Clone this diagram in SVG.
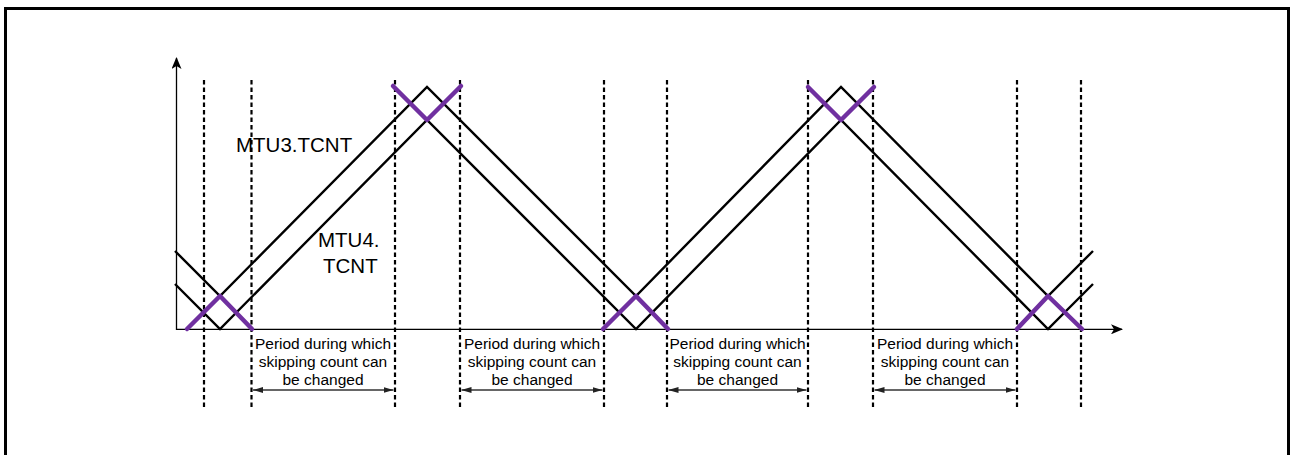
<svg xmlns="http://www.w3.org/2000/svg" width="1290" height="455" viewBox="0 0 1290 455">
<defs>
<style>
.frame{fill:none;stroke:#000;stroke-width:3}
.axis{fill:none;stroke:#000;stroke-width:1.3}
.dash{fill:none;stroke:#000;stroke-width:2.2;stroke-dasharray:4.5 3}
.wave{fill:none;stroke:#000;stroke-width:2.4;stroke-linejoin:miter}
.mark{fill:none;stroke:#7030A0;stroke-width:4.5;stroke-linecap:round;stroke-linejoin:round}
.span{fill:none;stroke:#333;stroke-width:1.5}
.lbl{font-family:"Liberation Sans",Arial,sans-serif;font-size:20.5px;fill:#000}
.per{font-family:"Liberation Sans",Arial,sans-serif;font-size:15.5px;fill:#000;text-anchor:middle}
</style>
<marker id="ah" viewBox="0 0 12 10" refX="11" refY="5" markerWidth="12" markerHeight="10" markerUnits="userSpaceOnUse" orient="auto-start-reverse">
<path d="M0,0 L12,5 L0,10 L3,5 Z" fill="#000"/>
</marker>
<marker id="sh" viewBox="0 0 10 6" refX="10" refY="3" markerWidth="10" markerHeight="6" markerUnits="userSpaceOnUse" orient="auto-start-reverse">
<path d="M0,0 L10,3 L0,6 Z" fill="#222"/>
</marker>
</defs>
<rect class="frame" x="5.5" y="8.5" width="1283" height="460" fill="#fff"/>
<g id="connectors">
<line class="axis" x1="176.5" y1="330" x2="176.5" y2="58" marker-end="url(#ah)"/>
<line class="axis" x1="176" y1="329.3" x2="1122" y2="329.3" marker-end="url(#ah)"/>
<g id="dashes">
<line class="dash" x1="204" y1="80" x2="204" y2="408"/>
<line class="dash" x1="251.5" y1="80" x2="251.5" y2="408"/>
<line class="dash" x1="395" y1="80" x2="395" y2="408"/>
<line class="dash" x1="460" y1="80" x2="460" y2="408"/>
<line class="dash" x1="604" y1="80" x2="604" y2="408"/>
<line class="dash" x1="667" y1="80" x2="667" y2="408"/>
<line class="dash" x1="808" y1="80" x2="808" y2="408"/>
<line class="dash" x1="873" y1="80" x2="873" y2="408"/>
<line class="dash" x1="1017" y1="80" x2="1017" y2="408"/>
<line class="dash" x1="1081" y1="80" x2="1081" y2="408"/>
</g>
<g id="spans">
<line class="span" x1="253" y1="390" x2="393.5" y2="390" marker-start="url(#sh)" marker-end="url(#sh)"/>
<line class="span" x1="461.5" y1="390" x2="602.5" y2="390" marker-start="url(#sh)" marker-end="url(#sh)"/>
<line class="span" x1="668.5" y1="390" x2="806.5" y2="390" marker-start="url(#sh)" marker-end="url(#sh)"/>
<line class="span" x1="874.5" y1="390" x2="1015.5" y2="390" marker-start="url(#sh)" marker-end="url(#sh)"/>
</g>
</g>
<g id="mtu3">
<polyline class="wave" points="175,251 220,296 427,87 636,296 841,87 1048,296 1093,251"/>
<text class="lbl" x="236" y="152">MTU3.TCNT</text>
</g>
<g id="mtu4">
<polyline class="wave" points="175,284 220,329 427,120 636,329 841,120 1048,329 1093,284"/>
<text class="lbl" x="318" y="247">MTU4.</text>
<text class="lbl" x="323" y="273">TCNT</text>
</g>
<g id="marks">
<polyline class="mark" points="187,329 220,296 252,329"/>
<polyline class="mark" points="393,86 427,120 461,86"/>
<polyline class="mark" points="603,329 636,296 668,329"/>
<polyline class="mark" points="808,87 841,120 874,87"/>
<polyline class="mark" points="1017,329 1048,296 1082,329"/>
</g>
<g id="labels">
<text class="per" x="323" y="348.5">Period during which<tspan x="323" y="366.7">skipping count can</tspan><tspan x="323" y="384.5">be changed</tspan></text>
<text class="per" x="532" y="348.5">Period during which<tspan x="532" y="366.7">skipping count can</tspan><tspan x="532" y="384.5">be changed</tspan></text>
<text class="per" x="737.5" y="348.5">Period during which<tspan x="737.5" y="366.7">skipping count can</tspan><tspan x="737.5" y="384.5">be changed</tspan></text>
<text class="per" x="945" y="348.5">Period during which<tspan x="945" y="366.7">skipping count can</tspan><tspan x="945" y="384.5">be changed</tspan></text>
</g>
</svg>
